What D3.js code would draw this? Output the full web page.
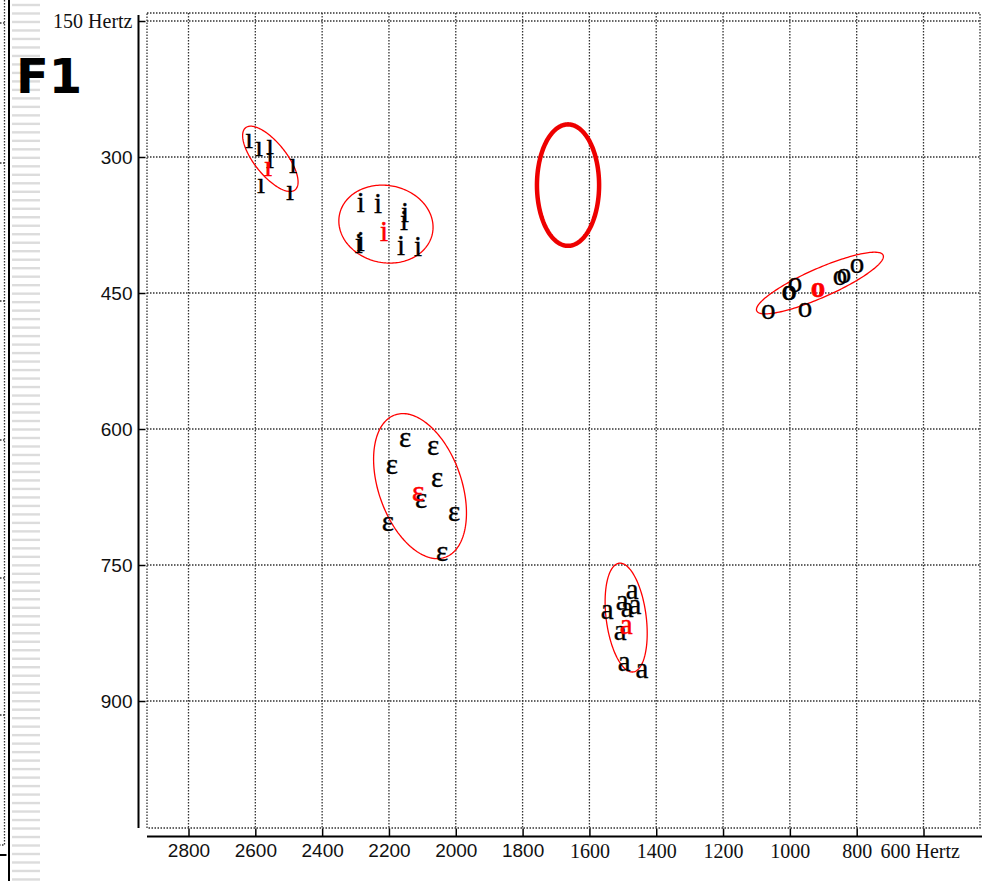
<!DOCTYPE html>
<html>
<head>
<meta charset="utf-8">
<script src="https://cdn.jsdelivr.net/npm/d3@7/dist/d3.min.js"></script>
<style>
  body { margin: 0; background: #fff; }
  svg { display: block; }
</style>
</head>
<body>
<script>
// ---- Formant measurements (Hz): F2 horizontal, F1 vertical ----
// Vowel symbols drawn for the tokens of each group
const vowelSymbols = ["ı", "i", "ɛ", "a", "o"];

// Tokens of /ı/
const f2_dotless = [2619, 2589, 2556, 2556, 2583, 2487, 2496];
const f1_dotless = [283, 292, 289, 305, 333, 311, 340];
// Tokens of /i/
const f2_i = [2284, 2233, 2152, 2155, 2290, 2284, 2164, 2113];
const f1_i = [353, 355, 364, 373, 399, 396, 401, 402];
// Tokens of /ɛ/
const f2_eps = [2152, 2068, 2191, 2056, 2104, 2005, 2203, 2041];
const f1_eps = [613, 622, 642, 657, 680, 694, 705, 738];
// Tokens of /a/
const f2_a = [1472, 1502, 1464, 1547, 1487, 1508, 1496, 1443];
const f1_a = [780, 792, 797, 802, 800, 825, 860, 867];
// Tokens of /o/
const f2_o = [1065, 955, 1003, 1001, 985, 850, 838, 799];
const f1_o = [472, 469, 450, 451, 442, 434, 432, 421];

// Group means (red symbols)
const meanF2 = [2562, 2215, 2113, 1490, 916];
const meanF1 = [314, 385, 672, 819, 447];

// Dispersion ellipses: centre, half-extent along each axis, correlation
const ellF2 = [2555, 2209, 2107, 1490, 910];
const ellF1 = [302, 374, 663, 808, 439];
const ellR2 = [83, 141, 139, 63, 190];
const ellR1 = [36, 43, 80, 60, 34];
const ellRho = [-0.71, -0.08, -0.37, -0.29, 0.86];

// Highlighted empty region
const markF2 = 1664, markF1 = 331, markR2 = 93, markR1 = 67;

// Axis ticks
const xTicks = [2800, 2600, 2400, 2200, 2000, 1800, 1600, 1400, 1200, 1000, 800, 600];
const xTickLabels = ["2800", "2600", "2400", "2200", "2000", "1800", "1600", "1400", "1200", "1000", "800", "600 Hertz"];
const yTicks = [150, 300, 450, 600, 750, 900];
const yTickLabels = ["150 Hertz", "300", "450", "600", "750", "900"];

// ---- Layout ----
const W = 987, H = 881;
const frame = { left: 147, right: 980, top: 13, bottom: 828 };
const SANS = "'Liberation Sans', Arial, sans-serif";
const SERIF = "'Liberation Serif', 'Times New Roman', serif";

const x = d3.scaleLinear().domain([2800, 600]).range([188.5, 923.5]);
const y = d3.scaleLinear().domain([150, 900]).range([21, 701]);

const svg = d3.select("body").append("svg").attr("width", W).attr("height", H);

// ---- Neighbouring panel edge on the left ----
const side = svg.append("g");
side.selectAll("line.stripe")
  .data(d3.range(5, H, 8.49))
  .join("line")
  .attr("x1", 12).attr("x2", 40)
  .attr("y1", d => d).attr("y2", d => d)
  .attr("stroke", "#dcdcdc").attr("stroke-width", 2.4);
const dotted = { stroke: "#333", "stroke-width": 1.3, "stroke-dasharray": "1.5,1.5" };
function applyAttrs(sel, attrs) { Object.entries(attrs).forEach(([k, v]) => sel.attr(k, v)); return sel; }
applyAttrs(side.append("path").attr("d", "M4.5,0V845H0").attr("fill", "none"), dotted);
side.selectAll("line.stub")
  .data([23, 163, 301, 440, 578, 715])
  .join("line")
  .attr("x1", 0).attr("x2", 4.5)
  .attr("y1", d => d).attr("y2", d => d)
  .call(s => applyAttrs(s, dotted));
side.append("line").attr("x1", 9).attr("x2", 9).attr("y1", 0).attr("y2", H)
  .attr("stroke", "#000").attr("stroke-width", 2);
side.append("line").attr("x1", 0).attr("x2", 6.5).attr("y1", 855).attr("y2", 855)
  .attr("stroke", "#000").attr("stroke-width", 2);

// ---- Plot frame and grid ----
const grid = svg.append("g");
applyAttrs(grid.append("rect")
  .attr("x", frame.left).attr("y", frame.top)
  .attr("width", frame.right - frame.left).attr("height", frame.bottom - frame.top)
  .attr("fill", "none"), dotted);
grid.selectAll("line.vg").data(xTicks).join("line")
  .attr("x1", d => x(d)).attr("x2", d => x(d))
  .attr("y1", frame.top).attr("y2", frame.bottom)
  .call(s => applyAttrs(s, dotted));
grid.selectAll("line.hg").data(yTicks).join("line")
  .attr("x1", frame.left).attr("x2", frame.right)
  .attr("y1", d => y(d)).attr("y2", d => y(d))
  .call(s => applyAttrs(s, dotted));

// ---- Axes ----
const yAxisX = 138.5, xAxisY = 836.5;
const yAxis = d3.axisLeft(y).tickValues(yTicks).tickSize(-7).tickPadding(6)
  .tickFormat((d, i) => yTickLabels[i]);
const gy = svg.append("g").attr("transform", `translate(${yAxisX},0)`).call(yAxis);
gy.select(".domain").remove();
gy.selectAll(".tick line").attr("stroke", "#000").attr("stroke-width", 1.5);
gy.selectAll(".tick text")
  .attr("fill", "#111")
  .style("font-family", d => d === 150 ? SERIF : SANS)
  .style("font-size", d => d === 150 ? "20px" : "19px");
gy.append("line").attr("x1", 0).attr("x2", 0).attr("y1", 15).attr("y2", frame.bottom)
  .attr("stroke", "#000").attr("stroke-width", 2);

const xAxis = d3.axisBottom(x).tickValues(xTicks).tickSize(-8).tickPadding(7)
  .tickFormat((d, i) => xTickLabels[i]);
const gx = svg.append("g").attr("transform", `translate(0,${xAxisY})`).call(xAxis);
gx.select(".domain").remove();
gx.selectAll(".tick line").attr("stroke", "#000").attr("stroke-width", 1.5);
gx.selectAll(".tick text")
  .attr("fill", "#111")
  .style("font-family", d => d >= 1800 ? SANS : SERIF)
  .style("font-size", d => d >= 1800 ? "19px" : "20px");
// the last label carries the unit and is shifted left to fit
gx.selectAll(".tick text").filter(d => d === 600)
  .attr("text-anchor", "start").attr("x", -43.5);
gx.append("line").attr("x1", frame.left).attr("x2", 982).attr("y1", 0).attr("y2", 0)
  .attr("stroke", "#000").attr("stroke-width", 2);

// ---- Dispersion ellipses ----
function ellipsePath(c2, c1, r2, r1, rho) {
  const k = Math.sqrt(1 - rho * rho);
  const pts = d3.range(0, 2 * Math.PI, Math.PI / 90).map(t => [
    x(c2 + r2 * Math.cos(t)),
    y(c1 + r1 * (rho * Math.cos(t) + k * Math.sin(t)))
  ]);
  return d3.line().curve(d3.curveLinearClosed)(pts);
}
svg.append("g").selectAll("path")
  .data(d3.range(ellF2.length))
  .join("path")
  .attr("d", i => ellipsePath(ellF2[i], ellF1[i], ellR2[i], ellR1[i], ellRho[i]))
  .attr("fill", "none").attr("stroke", "#f00").attr("stroke-width", 1.3);

// Highlighted empty region
svg.append("path")
  .attr("d", ellipsePath(markF2, markF1, markR2, markR1, 0))
  .attr("fill", "none").attr("stroke", "#e00").attr("stroke-width", 4.5);

// ---- Tokens ----
const groups = [
  [f2_dotless, f1_dotless], [f2_i, f1_i], [f2_eps, f1_eps], [f2_a, f1_a], [f2_o, f1_o]
];
const tokens = groups.flatMap(([f2s, f1s], g) =>
  f2s.map((f2, j) => ({ f2, f1: f1s[j], sym: vowelSymbols[g] })));

const glyphs = svg.append("g")
  .style("font-family", SERIF).style("font-size", "29px")
  .attr("text-anchor", "middle");
glyphs.selectAll("text.tok").data(tokens).join("text")
  .attr("class", "tok")
  .attr("x", d => x(d.f2)).attr("y", d => y(d.f1) + 6.5)
  .attr("fill", "#000")
  .attr("stroke", "#000").attr("stroke-width", 0.35)
  .text(d => d.sym);

// Group means in red
glyphs.selectAll("text.mean").data(d3.range(meanF2.length)).join("text")
  .attr("class", "mean")
  .attr("x", i => x(meanF2[i])).attr("y", i => y(meanF1[i]) + 6.5)
  .attr("fill", "#f00")
  .attr("stroke", "#f00").attr("stroke-width", 0.5)
  .style("font-weight", i => vowelSymbols[i] === "o" ? "bold" : "normal")
  .text(i => vowelSymbols[i]);

// ---- Panel label ----
svg.append("text")
  .attr("x", 16).attr("y", 93)
  .style("font-family", "'DejaVu Sans', sans-serif")
  .style("font-weight", "bold").style("font-size", "48px")
  .attr("fill", "#000")
  .text("F1");
</script>
</body>
</html>
